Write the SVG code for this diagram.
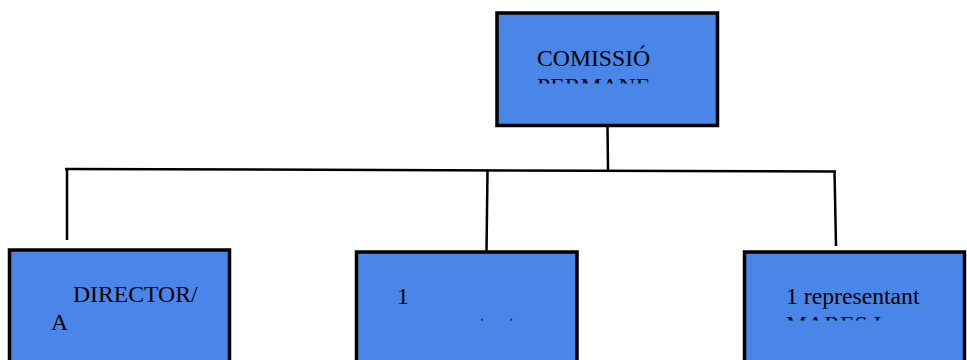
<svg xmlns="http://www.w3.org/2000/svg" width="967" height="360" viewBox="0 0 967 360">
<style>
.box{fill:#4A86E8;stroke:#000;stroke-width:3.5}
.t{font-family:"Liberation Serif","Times New Roman",serif;font-size:23.7px;fill:#000}
.c{stroke:#000;stroke-width:2.5;fill:none}
</style>
<defs>
<clipPath id="clipTop"><rect x="520" y="30" width="180" height="53.5"/></clipPath>
<clipPath id="clipMid"><rect x="380" y="270" width="180" height="50.5"/></clipPath>
<clipPath id="clipRight"><rect x="770" y="270" width="180" height="50.5"/></clipPath>
</defs>
<rect width="967" height="360" fill="#fff"/>
<g id="connectors">
<line class="c" x1="607.5" y1="126" x2="608" y2="170"/>
<line class="c" x1="65" y1="169" x2="836" y2="171.5"/>
<line class="c" x1="67" y1="169" x2="67" y2="240"/>
<line class="c" x1="487.5" y1="171" x2="486.5" y2="252"/>
<line class="c" x1="834.5" y1="171" x2="836" y2="246"/>
</g>
<g id="node-comissio">
<rect class="box" x="497" y="13" width="220.5" height="112.5"/>
<g clip-path="url(#clipTop)">
<text class="t" x="537" y="66">COMISSIÓ</text>
<text class="t" x="537" y="93.5">PERMANE</text>
</g>
</g>
<g id="node-director">
<rect class="box" x="9.5" y="250" width="220" height="120"/>
<text class="t" x="73" y="302">DIRECTOR/</text>
<text class="t" x="51" y="330">A</text>
</g>
<g id="node-representant1">
<rect class="box" x="356.5" y="252" width="220.5" height="120"/>
<g clip-path="url(#clipMid)">
<text class="t" x="397" y="304">1</text>
<text class="t" x="399" y="332">representant</text>
</g>
</g>
<g id="node-representant2">
<rect class="box" x="744.5" y="252" width="220" height="120"/>
<g clip-path="url(#clipRight)">
<text class="t" x="786" y="304">1 representant</text>
<text class="t" x="786" y="332">MARES I</text>
</g>
</g>
</svg>
